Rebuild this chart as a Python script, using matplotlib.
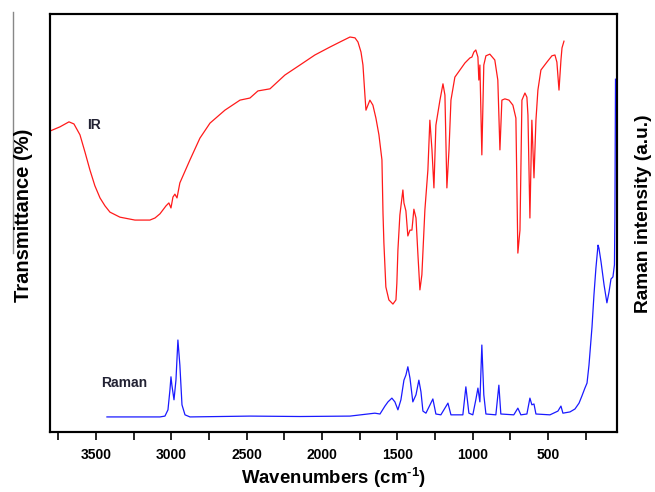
import matplotlib
matplotlib.use("Agg")
import matplotlib.pyplot as plt
from matplotlib.lines import Line2D
from matplotlib.ticker import MultipleLocator

plt.rcParams['font.family'] = ['Liberation Sans', 'DejaVu Sans']
plt.rcParams['mathtext.fontset'] = 'custom'
plt.rcParams['mathtext.rm'] = 'Liberation Sans:bold'
plt.rcParams['mathtext.bf'] = 'Liberation Sans:bold'

# IR spectrum (wavenumber in cm-1, transmittance in arbitrary %)
ir_wn = [3805, 3739, 3679, 3646, 3606, 3573, 3540, 3507, 3473, 3440, 3407, 3341,
         3241, 3142, 3108, 3075, 3035, 3016, 3002, 2989, 2976, 2962, 2943, 2876,
         2810, 2743, 2644, 2544, 2478, 2425, 2345, 2246, 2146, 2047, 1947, 1881,
         1814, 1781, 1761, 1741, 1728, 1715, 1708, 1695, 1682, 1662, 1642, 1622,
         1602, 1595, 1589, 1576, 1556, 1529, 1509, 1503, 1496, 1483, 1463, 1456,
         1443, 1430, 1416, 1403, 1390, 1376, 1363, 1350, 1337, 1317, 1297, 1284,
         1270, 1257, 1244, 1217, 1197, 1184, 1171, 1157, 1144, 1118, 1051, 1018,
         1005, 992, 979, 965, 959, 952, 939, 926, 912, 886, 853, 833, 819, 806,
         786, 759, 733, 713, 700, 686, 673, 653, 640, 633, 620, 607, 593, 580,
         567, 547, 507, 474, 454, 441, 427, 414, 407, 394]
ir_t = [72.0, 73.0, 74.2, 73.7, 71.1, 67.0, 62.7, 58.9, 56.0, 54.1, 52.6, 51.4,
        50.7, 50.7, 51.2, 52.2, 54.1, 54.8, 53.6, 56.2, 56.9, 56.0, 59.6, 65.1,
        70.3, 73.9, 77.0, 79.4, 79.9, 81.6, 82.1, 85.4, 87.8, 90.2, 92.1, 93.3,
        94.5, 94.3, 93.3, 90.9, 87.8, 80.6, 77.0, 78.2, 79.4, 78.2, 75.1, 71.1,
        65.1, 52.4, 45.2, 34.7, 31.6, 30.6, 31.6, 35.6, 43.5, 51.9, 57.9, 54.8,
        52.9, 46.9, 48.3, 48.3, 53.3, 51.2, 42.3, 34.0, 37.6, 53.1, 62.7, 74.6,
        67.5, 58.4, 73.4, 79.4, 83.3, 80.6, 58.4, 67.5, 79.4, 84.9, 88.3, 89.5,
        89.7, 90.9, 91.4, 89.7, 84.2, 87.8, 66.3, 87.8, 90.0, 90.4, 89.0, 84.2,
        67.5, 79.4, 79.7, 79.4, 78.2, 75.1, 42.8, 48.3, 79.4, 81.1, 80.1, 75.8,
        51.2, 74.6, 60.8, 74.6, 81.8, 86.6, 88.5, 90.0, 90.2, 88.5, 81.8, 89.0,
        91.9, 93.5]

# Raman spectrum (wavenumber in cm-1, intensity in a.u.)
raman_wn = [3427, 3274, 3075, 3042, 3022, 3009, 3002, 2996, 2982, 2969, 2956, 2943,
            2929, 2909, 2876, 2478, 2146, 1814, 1649, 1615, 1582, 1562, 1536, 1516,
            1496, 1476, 1456, 1443, 1430, 1416, 1397, 1376, 1357, 1343, 1330, 1310,
            1264, 1244, 1211, 1164, 1144, 1065, 1045, 1025, 999, 979, 965, 952,
            939, 926, 912, 846, 826, 813, 727, 700, 680, 640, 620, 607, 593, 580,
            487, 434, 414, 401, 354, 321, 294, 275, 255, 241, 228, 208, 195, 182,
            168, 162, 148, 128, 109, 95, 82, 69, 59, 56, 52]
raman_i = [3.6, 3.6, 3.6, 3.8, 5.3, 10.0, 13.2, 11.2, 7.7, 12.4, 22.0, 16.0,
           6.5, 4.1, 3.6, 3.8, 3.7, 3.8, 4.5, 4.3, 6.2, 7.2, 8.1, 7.2,
           5.3, 7.7, 12.4, 13.6, 15.6, 12.9, 7.2, 8.9, 12.4, 9.6, 5.0, 4.5,
           7.9, 4.3, 4.1, 6.9, 4.1, 4.1, 10.8, 4.5, 4.1, 7.7, 10.5, 7.2,
           20.8, 8.9, 4.3, 4.1, 11.2, 4.3, 4.1, 5.7, 4.1, 4.3, 8.1, 6.5, 6.7, 4.3,
           4.1, 5.0, 6.2, 4.5, 4.8, 5.5, 6.9, 8.6, 10.5, 11.7, 16.0, 25.1, 32.8, 39.2,
           44.7, 44.0, 40.7, 35.2, 30.9, 33.5, 36.6, 37.1, 40.0, 51.4, 84.4]

fig = plt.figure(figsize=(6.55, 4.92), dpi=100)
ax = fig.add_axes([0.0763, 0.122, 0.8657, 0.8495])
ax2 = ax.twinx()

ax.plot(ir_wn, ir_t, color='#ff1a1a', lw=0.9)
ax2.plot(raman_wn, raman_i, color='#1a1aff', lw=0.9)

for a in (ax, ax2):
    a.set_xlim(3805, 42)
    a.set_ylim(0, 100)
    a.set_yticks([])
    for s in a.spines.values():
        s.set_linewidth(1.5)

ax.xaxis.set_major_locator(MultipleLocator(500))
ax.xaxis.set_minor_locator(MultipleLocator(250))
ax.tick_params(axis='x', which='both', direction='out', length=5.5, width=1.2)
ax.tick_params(axis='x', which='major', labelsize=10, pad=6)
for lbl in ax.get_xticklabels():
    lbl.set_fontweight('bold')

ax.set_xlabel(r'Wavenumbers (cm$^{\text{-1}}$)', fontsize=13.4, fontweight='bold', labelpad=2.5)

# axis titles for the two y scales
fig.text(0.0366, 0.563, 'Transmittance (%)', rotation=90, fontsize=14.5, fontweight='bold',
         ha='center', va='center')
fig.text(0.983, 0.565, 'Raman intensity (a.u.)', rotation=90, fontsize=13.8, fontweight='bold',
         ha='center', va='center')

ax.text(3560, 73.4, 'IR', fontsize=10, fontweight='bold', color='#222233', ha='left', va='center')
ax.text(3467, 11.7, 'Raman', fontsize=10, fontweight='bold', color='#222233', ha='left', va='center')

# stray grey rule left of the y label in the original figure
fig.add_artist(Line2D([0.0198, 0.0198], [0.976, 0.486], transform=fig.transFigure,
                      color='#888888', lw=1))

fig.savefig('out.png', dpi=100)
